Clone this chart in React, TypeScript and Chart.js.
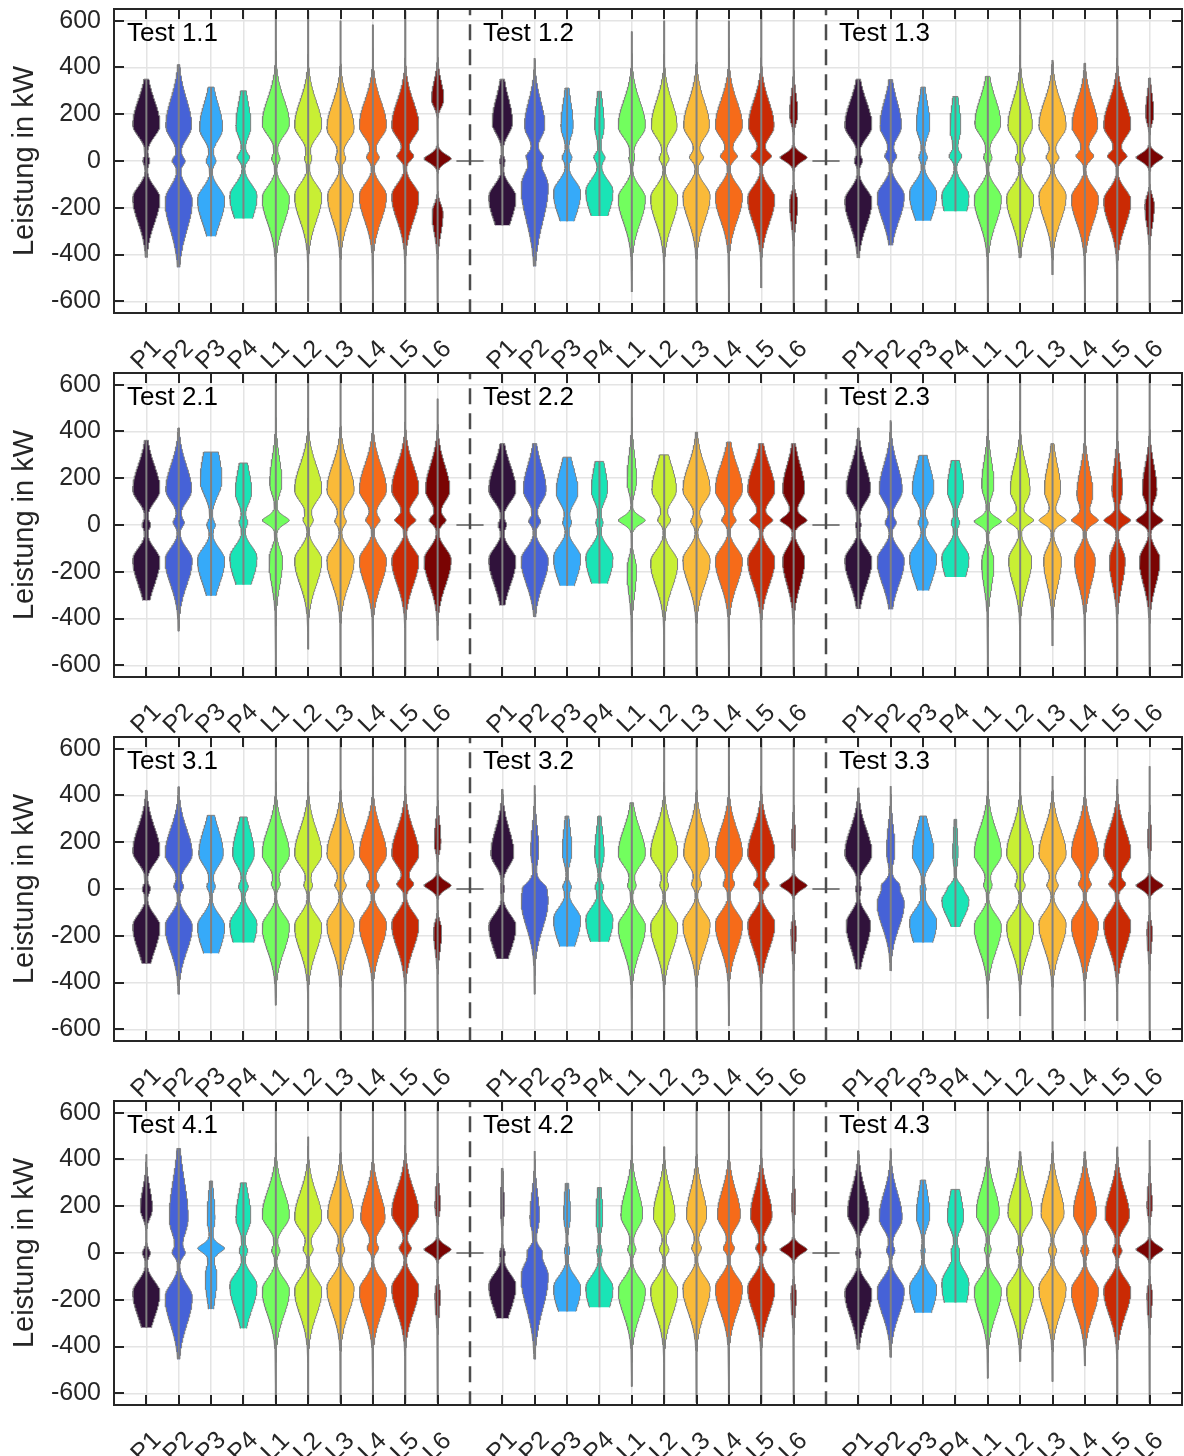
import React, { useEffect, useRef } from "react";
import { Chart, registerables } from "chart.js";
Chart.register(...registerables);

// ---------- data ----------
const categories = ["P1", "P2", "P3", "P4", "L1", "L2", "L3", "L4", "L5", "L6"];
const colors = ["#30123b", "#4662d7", "#36aaf9", "#1ae4b6", "#72fe5e", "#c8ef34", "#faba39", "#f66b19", "#ca2a04", "#7a0403"];
const yTicks = [-600, -400, -200, 0, 200, 400, 600];
const testNames = [
  ["Test 1.1", "Test 1.2", "Test 1.3"],
  ["Test 2.1", "Test 2.2", "Test 2.3"],
  ["Test 3.1", "Test 3.2", "Test 3.3"],
  ["Test 4.1", "Test 4.2", "Test 4.3"],
];

// row: [upper mode, upper weight, centre mode, centre weight, lower mode, lower weight, min, max, upper spread, lower spread]
const test11 = [
  [155, 1, 0, 0.25, -160, 1, -412, 350],
  [150, 0.95, 0, 0.45, -170, 1, -454, 412, 1.1, 1.2],
  [140, 0.85, 0, 0.35, -165, 1, -322, 316],
  [150, 0.55, 15, 0.45, -150, 1, -246, 300],
  [160, 1, 10, 0.3, -160, 1, -640, 640],
  [150, 1, 10, 0.25, -150, 1, -600, 640],
  [140, 1, 10, 0.35, -150, 0.95, -640, 600],
  [150, 1, 15, 0.45, -150, 1, -640, 583],
  [150, 1, 20, 0.6, -150, 1, -640, 640],
  [265, 0.45, 10, 1, -225, 0.4, -640, 640, 0.7, 0.8],
];
const test12 = [
  [165, 0.75, 0, 0.2, -155, 1, -275, 350],
  [150, 0.75, 20, 0.45, -110, 1, -450, 440, 1, 1.4],
  [150, 0.45, 15, 0.35, -135, 1, -258, 312],
  [150, 0.35, 15, 0.4, -130, 1, -235, 298],
  [150, 1, 10, 0.2, -160, 1, -560, 554],
  [150, 0.95, 10, 0.35, -160, 1, -640, 600],
  [150, 0.95, 15, 0.5, -150, 1, -640, 640],
  [150, 1, 20, 0.6, -150, 1, -640, 600],
  [150, 0.9, 20, 0.7, -160, 0.95, -543, 640],
  [200, 0.3, 15, 1, -180, 0.3, -640, 640, 0.8, 0.8],
];
const test13 = [
  [150, 1, 0, 0.3, -170, 1, -415, 350],
  [150, 0.75, 20, 0.4, -150, 0.95, -360, 348],
  [150, 0.5, 15, 0.3, -140, 1, -255, 316],
  [140, 0.4, 20, 0.45, -150, 1, -215, 276],
  [160, 0.95, 15, 0.3, -160, 1, -640, 362],
  [150, 0.9, 10, 0.35, -160, 1, -415, 611],
  [150, 1, 15, 0.45, -150, 1, -487, 432],
  [150, 0.9, 20, 0.6, -160, 0.95, -640, 418],
  [150, 1, 20, 0.7, -170, 1, -640, 624],
  [200, 0.3, 15, 1, -190, 0.35, -640, 355, 0.8, 0.8],
];
const test21 = [
  [150, 1, 0, 0.3, -150, 1, -322, 362],
  [150, 0.95, 10, 0.4, -150, 1, -454, 415],
  [190, 0.8, 0, 0.3, -150, 1, -303, 312, 1.3, 1],
  [140, 0.6, 10, 0.3, -140, 1, -255, 265],
  [180, 0.45, 20, 1, -150, 0.5, -640, 640],
  [150, 1, 20, 0.35, -150, 1, -531, 640],
  [150, 1, 15, 0.4, -150, 1, -640, 640],
  [150, 1, 20, 0.5, -150, 1, -640, 640],
  [150, 1, 20, 0.75, -150, 1, -640, 640],
  [150, 0.9, 20, 0.6, -150, 1, -493, 540],
];
const test22 = [
  [150, 1, 0, 0.3, -150, 1, -343, 348],
  [150, 0.8, 15, 0.4, -150, 0.95, -393, 348],
  [140, 0.8, 10, 0.3, -140, 1, -260, 290],
  [150, 0.6, 10, 0.25, -140, 1, -250, 272],
  [190, 0.35, 20, 1, -190, 0.35, -640, 640],
  [150, 0.9, 20, 0.45, -160, 1, -640, 300],
  [150, 1, 15, 0.4, -150, 1, -640, 397],
  [150, 1, 20, 0.5, -150, 1, -640, 355],
  [150, 0.85, 20, 0.7, -150, 0.85, -640, 348],
  [150, 0.8, 20, 0.95, -150, 0.8, -640, 348],
];
const test23 = [
  [150, 0.9, 0, 0.2, -150, 1, -358, 415],
  [150, 0.85, 10, 0.4, -150, 1, -360, 447],
  [150, 0.8, 10, 0.35, -140, 1, -280, 298],
  [150, 0.6, 10, 0.3, -140, 1, -222, 276],
  [170, 0.45, 15, 1, -160, 0.45, -640, 640],
  [150, 0.6, 20, 0.8, -150, 0.7, -640, 640],
  [150, 0.55, 20, 0.9, -150, 0.6, -517, 348],
  [130, 0.5, 20, 0.8, -150, 0.65, -640, 640],
  [150, 0.4, 20, 1, -150, 0.6, -640, 640],
  [150, 0.5, 20, 0.9, -150, 0.7, -640, 640],
];
const test31 = [
  [160, 1, 0, 0.3, -160, 1, -319, 422],
  [150, 1, 10, 0.35, -160, 1, -450, 437],
  [150, 0.9, 10, 0.3, -160, 1, -275, 315],
  [150, 0.8, 10, 0.35, -150, 1, -229, 308],
  [150, 1, 20, 0.3, -160, 1, -497, 640],
  [150, 1, 15, 0.3, -160, 1, -640, 640],
  [150, 1, 15, 0.4, -150, 1, -640, 640],
  [150, 1, 15, 0.45, -150, 1, -640, 640],
  [150, 1, 20, 0.6, -150, 1, -640, 640],
  [200, 0.25, 15, 1, -180, 0.3, -640, 640, 0.8, 0.8],
];
const test32 = [
  [150, 0.85, 0, 0.15, -160, 1, -298, 426],
  [160, 0.3, 10, 0.3, -50, 1, -450, 443, 1, 1.1],
  [160, 0.35, 10, 0.3, -130, 1, -246, 312],
  [150, 0.35, 10, 0.3, -130, 1, -226, 312],
  [150, 1, 15, 0.3, -160, 1, -640, 369],
  [150, 1, 15, 0.3, -160, 1, -640, 640],
  [150, 0.95, 20, 0.35, -150, 1, -640, 640],
  [150, 1, 20, 0.4, -150, 1, -585, 640],
  [150, 1, 20, 0.55, -150, 1, -640, 640],
  [200, 0.15, 15, 1, -180, 0.2, -640, 640, 0.8, 0.8],
];
const test33 = [
  [150, 1, 0, 0.2, -150, 0.9, -343, 433],
  [160, 0.25, 20, 0.3, -60, 0.8, -350, 440],
  [150, 0.8, 0, 0.2, -140, 1, -229, 312],
  [150, 0.2, 10, 0.3, -50, 1, -162, 298, 1, 0.7],
  [150, 1, 15, 0.3, -160, 1, -554, 640],
  [150, 1, 15, 0.35, -160, 1, -543, 640],
  [150, 1, 15, 0.4, -150, 1, -640, 483],
  [150, 1, 20, 0.45, -150, 1, -564, 640],
  [150, 1, 20, 0.6, -150, 1, -564, 469],
  [200, 0.15, 15, 1, -180, 0.2, -640, 525, 0.8, 0.8],
];
const test41 = [
  [190, 0.45, 0, 0.3, -170, 1, -319, 422, 0.8, 1],
  [150, 0.7, 0, 0.4, -190, 1, -454, 447, 1.5, 1.1],
  [150, 0.3, 20, 1, -100, 0.45, -240, 308],
  [150, 0.55, 10, 0.3, -140, 1, -322, 300],
  [160, 1, 10, 0.3, -160, 1, -640, 640],
  [150, 1, 15, 0.35, -160, 1, -640, 497],
  [160, 0.95, 15, 0.3, -150, 1, -640, 640],
  [150, 0.9, 20, 0.4, -160, 1, -640, 640],
  [170, 1, 20, 0.45, -150, 1, -640, 640],
  [200, 0.2, 15, 1, -180, 0.2, -640, 640, 0.8, 0.8],
];
const test42 = [
  [190, 0.15, 0, 0.2, -140, 1, -279, 362],
  [150, 0.35, 10, 0.3, -100, 1, -454, 436, 1, 1.3],
  [160, 0.25, 10, 0.2, -150, 1, -250, 298],
  [150, 0.25, 10, 0.2, -150, 1, -232, 280],
  [160, 0.8, 15, 0.3, -160, 1, -571, 640],
  [160, 0.8, 15, 0.35, -160, 1, -640, 454],
  [160, 0.75, 20, 0.35, -150, 1, -640, 640],
  [160, 0.85, 20, 0.4, -150, 1, -640, 640],
  [160, 0.8, 20, 0.4, -150, 1, -640, 640],
  [200, 0.15, 15, 1, -180, 0.2, -640, 640, 0.8, 0.8],
];
const test43 = [
  [170, 0.8, 0, 0.2, -170, 1, -412, 437],
  [150, 0.85, 10, 0.3, -160, 1, -446, 447],
  [160, 0.5, 10, 0.15, -150, 1, -255, 312],
  [150, 0.6, 10, 0.25, -130, 1, -212, 272, 1, 1.2],
  [170, 0.85, 15, 0.25, -160, 1, -536, 640],
  [170, 0.9, 10, 0.25, -160, 1, -464, 433],
  [170, 0.85, 10, 0.3, -150, 1, -550, 476],
  [170, 0.85, 10, 0.3, -160, 1, -483, 433],
  [160, 0.9, 10, 0.35, -160, 1, -640, 454],
  [200, 0.2, 15, 1, -180, 0.2, -640, 483, 0.8, 0.8],
];
const panels = [
  [test11, test12, test13],
  [test21, test22, test23],
  [test31, test32, test33],
  [test41, test42, test43],
];

// ---------- layout constants ----------
const W = 1184;
const STEP_H = 364; // vertical distance between panels
const H = 384; // canvas height (overlaps the next panel, transparent)
const HALF = 0.42; // max half width of a violin in category units
const GROUP = 11;
const FONT = "'Liberation Sans', Arial, Helvetica, sans-serif";
const GRAY = "#808080";
const AXIS = "#262626";

function violinOutline(row: number[], pos: number) {
  const [u, au, m, am, l, al, mn, mx, su = 1, sl = 1] = row;
  const ys: number[] = [];
  for (let y = mn; y < mx; y += 4) ys.push(y);
  ys.push(mx);
  const f = (y: number) => {
    const du = y - u;
    const su2 = du > 0 ? 105 * su : 50 * su;
    const dl = y - l;
    const sl2 = dl < 0 ? 105 * sl : 50 * sl;
    const dm = y - m;
    return (
      au * Math.exp(-0.5 * Math.pow(Math.abs(du) / su2, 2)) +
      al * Math.exp(-0.5 * Math.pow(Math.abs(dl) / sl2, 2)) +
      am * Math.exp(-0.5 * Math.pow(Math.abs(dm) / 18, 1.6))
    );
  };
  const ws = ys.map(f);
  const wmax = Math.max(...ws);
  const right = ys.map((y, i) => ({ x: pos + (ws[i] / wmax) * HALF, y }));
  const left = ys.map((y, i) => ({ x: pos - (ws[i] / wmax) * HALF, y })).reverse();
  return [...right, ...left];
}

const catPositions: number[] = [];
for (let g = 0; g < 3; g++) for (let j = 0; j < categories.length; j++) catPositions.push(g * GROUP + j);
const gapPositions = [10, 21];

function buildDatasets(tests: number[][][]) {
  const ds: any[] = [];
  tests.forEach((rows, g) => {
    rows.forEach((row, j) => {
      const pos = g * GROUP + j;
      ds.push({
        data: violinOutline(row, pos),
        showLine: true,
        fill: "shape",
        backgroundColor: colors[j],
        borderColor: GRAY,
        borderWidth: 1,
        pointRadius: 0,
        order: 3,
      });
      ds.push({
        data: [
          { x: pos, y: row[6] },
          { x: pos, y: row[7] },
        ],
        showLine: true,
        borderColor: GRAY,
        borderWidth: 2,
        pointRadius: 0,
        order: 2,
      });
    });
  });
  gapPositions.forEach((p) => {
    ds.push({
      data: [
        { x: p - HALF, y: 0 },
        { x: p + HALF, y: 0 },
      ],
      showLine: true,
      borderColor: GRAY,
      borderWidth: 2,
      pointRadius: 0,
      order: 1,
    });
    ds.push({
      data: [
        { x: p, y: -660 },
        { x: p, y: 660 },
      ],
      showLine: true,
      borderColor: "#4d4d4d",
      borderWidth: 2.5,
      borderDash: [16, 9],
      pointRadius: 0,
      order: 0,
    });
  });
  return ds;
}

function makeDecor(names: string[]) {
  return {
    id: "decor",
    afterDraw(chart: any) {
      const { ctx, chartArea: a, scales } = chart;
      const x = scales.x;
      const y = scales.y;
      ctx.save();
      ctx.strokeStyle = AXIS;
      ctx.lineWidth = 2;
      ctx.strokeRect(a.left, a.top, a.right - a.left, a.bottom - a.top);
      ctx.beginPath();
      catPositions.forEach((p) => {
        const px = Math.round(x.getPixelForValue(p));
        ctx.moveTo(px, a.bottom);
        ctx.lineTo(px, a.bottom - 10);
        ctx.moveTo(px, a.top);
        ctx.lineTo(px, a.top + 10);
      });
      yTicks.forEach((v) => {
        const py = Math.round(y.getPixelForValue(v));
        ctx.moveTo(a.left, py);
        ctx.lineTo(a.left + 10, py);
        ctx.moveTo(a.right, py);
        ctx.lineTo(a.right - 10, py);
      });
      ctx.stroke();

      ctx.fillStyle = AXIS;
      ctx.font = `25px ${FONT}`;
      ctx.textAlign = "center";
      ctx.textBaseline = "middle";
      catPositions.forEach((p, i) => {
        const px = x.getPixelForValue(p);
        ctx.save();
        ctx.translate(px, a.bottom + 42);
        ctx.rotate(-Math.PI / 4);
        ctx.fillText(categories[i % categories.length], 0, 0);
        ctx.restore();
      });

      ctx.fillStyle = "#000000";
      ctx.font = `26px ${FONT}`;
      ctx.textAlign = "left";
      ctx.textBaseline = "alphabetic";
      names.forEach((n, g) => {
        ctx.fillText(n, x.getPixelForValue(g * GROUP - 1) + 13, a.top + 32);
      });
      ctx.restore();
    },
  };
}

function Panel({ index }: { index: number }) {
  const ref = useRef<HTMLCanvasElement | null>(null);
  useEffect(() => {
    if (!ref.current) return;
    const chart = new Chart(ref.current, {
      type: "scatter",
      data: { datasets: buildDatasets(panels[index]) },
      options: {
        responsive: false,
        animation: false,
        devicePixelRatio: 1,
        events: [],
        layout: { padding: { top: 9, right: 2, left: 0, bottom: 0 } },
        plugins: { legend: { display: false }, tooltip: { enabled: false } },
        scales: {
          x: {
            type: "linear",
            min: -1,
            max: 32,
            afterBuildTicks: (s: any) => {
              s.ticks = catPositions.map((v) => ({ value: v }));
            },
            afterFit: (s: any) => {
              s.height = H - 313;
              s.paddingLeft = 0;
              s.paddingRight = 0;
            },
            ticks: { display: false },
            grid: { color: "#e4e4e4", lineWidth: 1.5, drawTicks: false },
            border: { display: false },
          },
          y: {
            type: "linear",
            min: -650,
            max: 650,
            afterBuildTicks: (s: any) => {
              s.ticks = yTicks.map((v) => ({ value: v }));
            },
            afterFit: (s: any) => {
              s.width = 114;
              s.paddingTop = 0;
              s.paddingBottom = 0;
            },
            ticks: {
              color: AXIS,
              font: { family: FONT, size: 25 },
              padding: 13,
            },
            grid: { color: "#e4e4e4", lineWidth: 1.5, drawTicks: false },
            border: { display: false },
            title: {
              display: true,
              text: "Leistung in kW",
              color: AXIS,
              font: { family: FONT, size: 29 },
              padding: { top: 8, bottom: 0 },
            },
          },
        },
      } as any,
      plugins: [makeDecor(testNames[index])],
    });
    return () => chart.destroy();
  }, [index]);
  return (
    <canvas
      ref={ref}
      width={W}
      height={H}
      style={{ position: "absolute", left: 0, top: index * STEP_H, display: "block", width: W, height: H }}
    />
  );
}

export default function App() {
  return (
    <div style={{ position: "absolute", left: 0, top: 0, width: W, height: 1456, background: "#ffffff", overflow: "hidden" }}>
      {[0, 1, 2, 3].map((i) => (
        <Panel key={i} index={i} />
      ))}
    </div>
  );
}
